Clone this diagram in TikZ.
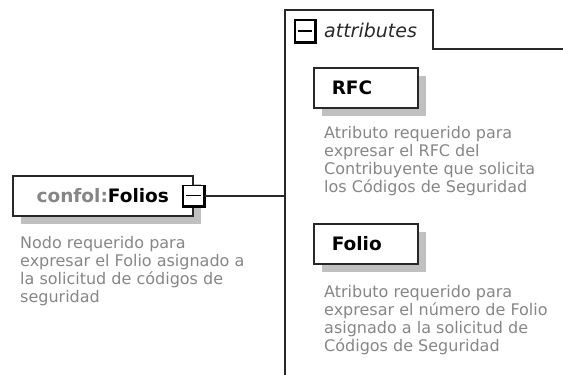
\documentclass[tikz,border=0pt]{standalone}
\usepackage{fontspec}
\setmainfont{DejaVu Sans}
\usetikzlibrary{shadows}
\definecolor{desc}{RGB}{134,134,134}
\definecolor{frame}{RGB}{40,40,40}
\definecolor{shade}{RGB}{192,192,192}

\begin{document}
\begin{tikzpicture}[x=1pt, y=-1pt,
  every node/.style={inner sep=0pt},
  box/.style={draw=frame, line width=1.5pt, fill=white, minimum height=40pt, anchor=north west,
    font=\bfseries\fontsize{18.5}{20}\selectfont,
    drop shadow={shadow xshift=8pt, shadow yshift=-8pt, fill=shade, opacity=1}},
  desc/.style={anchor=north west, align=left, text=desc, font=\fontsize{16}{18}\selectfont},
  collapse/.style={draw=black, line width=1.3pt, fill=white, minimum width=21pt, minimum height=20pt}]
  \useasboundingbox (0,0) rectangle (563,375);
  % attributes group
  \draw[frame, line width=1.6pt] (285,376) -- (285,10) -- (433,10) -- (433,49) -- (564,49);
  \coordinate (groupline) at (285,0);
  \node[collapse, minimum width=20pt, minimum height=22pt] (attrminus) at (305,31) {};
  \draw[line width=2.2pt] (attrminus.north east) -- (attrminus.south east) -- (attrminus.south west);
  \draw[line width=1.3pt] ([xshift=4pt]attrminus.west) -- ([xshift=-4pt]attrminus.east);
  \node[anchor=base west, text=frame, font=\itshape\fontsize{19}{21}\selectfont] (attrlabel) at (324,37) {attributes};
  \node[box, inner xsep=18pt, text width=68pt, align=left] (rfc) at (313,67) {RFC};
  \node[desc] (rfcdesc) at (324,126) {Atributo requerido para\\expresar el RFC del\\Contribuyente que solicita\\los Códigos de Seguridad};
  \node[box, inner xsep=18pt, text width=68pt, align=left] (folio) at (313,223) {Folio};
  \node[desc] (foliodesc) at (324,285) {Atributo requerido para\\expresar el número de Folio\\asignado a la solicitud de\\Códigos de Seguridad};
  % element
  \node[box, minimum width=180pt] (folios) at (12,175) {\textcolor{desc}{confol:}Folios};
  \node[collapse] (foliosminus) at (folios.east) {};
  \draw[line width=2.2pt] (foliosminus.north east) -- (foliosminus.south east) -- (foliosminus.south west);
  \draw[line width=1.3pt] ([xshift=4pt]foliosminus.west) -- ([xshift=-4pt]foliosminus.east);
  \node[desc] (foliosdesc) at (20,236) {Nodo requerido para\\expresar el Folio asignado a\\la solicitud de códigos de\\seguridad};
  \coordinate (attrjoin) at (groupline |- foliosminus.east);
  \draw[frame, line width=1.6pt] (foliosminus.east) -- (attrjoin);
\end{tikzpicture}
\end{document}
